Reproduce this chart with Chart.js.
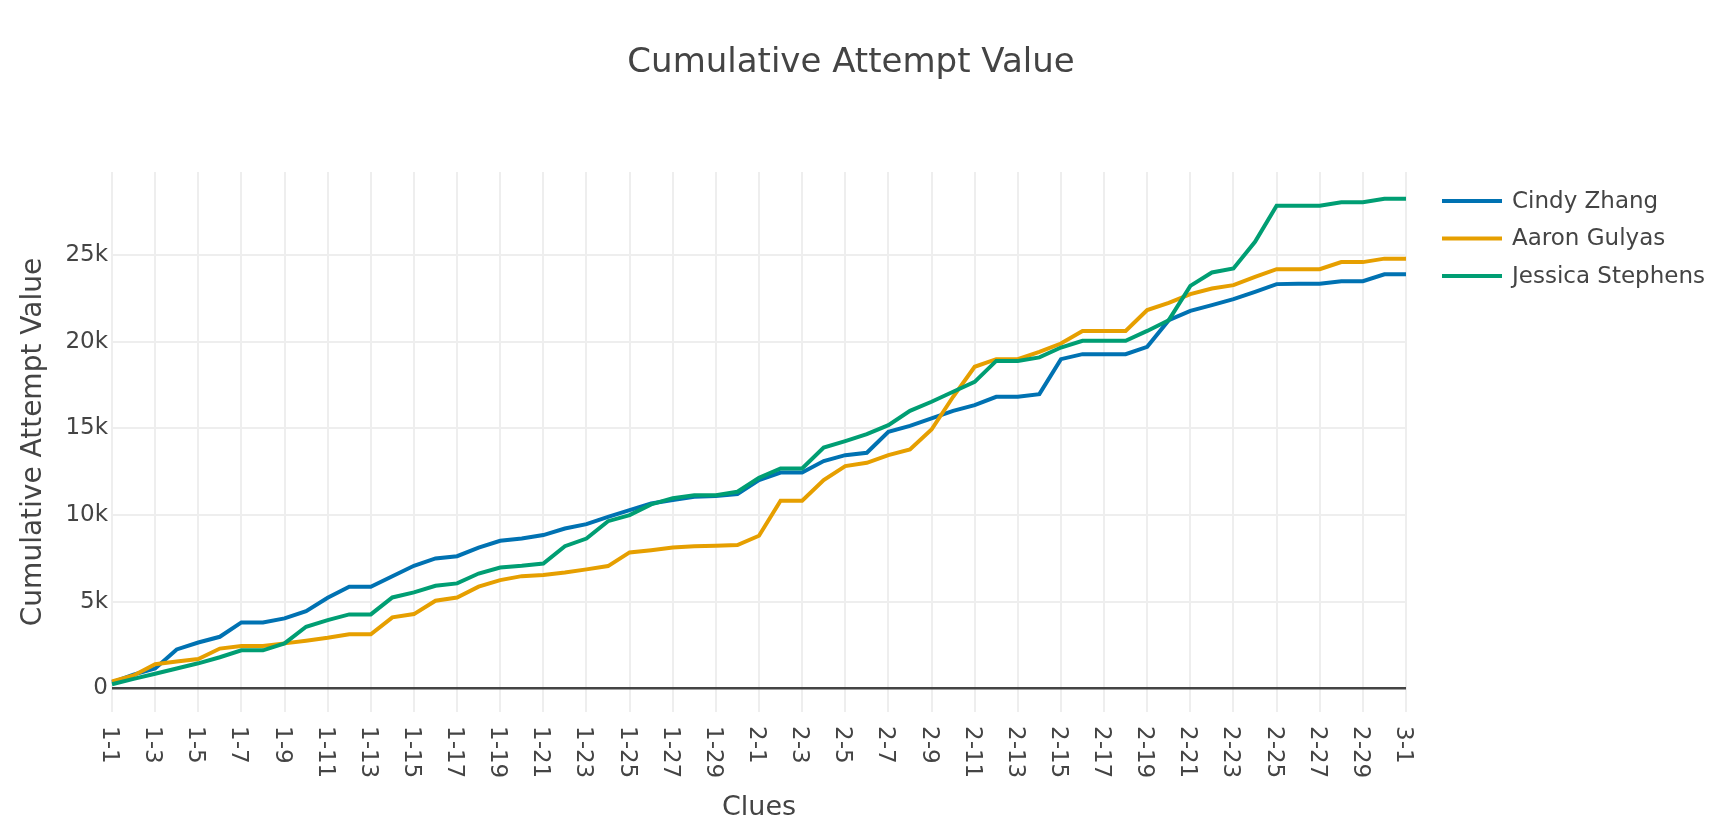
<!DOCTYPE html>
<html>
<head>
<meta charset="utf-8">
<title>Cumulative Attempt Value</title>
<script src="https://cdn.jsdelivr.net/npm/chart.js@4.4.0/dist/chart.umd.min.js"></script>
<style>
    html, body { margin: 0; padding: 0; background: #fff; }
    canvas { display: block; }
</style>
</head>
<body>
<canvas id="chart" width="1732" height="834"></canvas>
<script>
// clue labels: 1-1 .. 1-30, 2-1 .. 2-30, 3-1
const clues = [
    "1-1", "1-2", "1-3", "1-4", "1-5", "1-6", "1-7", "1-8", "1-9", "1-10",
    "1-11", "1-12", "1-13", "1-14", "1-15", "1-16", "1-17", "1-18", "1-19", "1-20",
    "1-21", "1-22", "1-23", "1-24", "1-25", "1-26", "1-27", "1-28", "1-29", "1-30",
    "2-1", "2-2", "2-3", "2-4", "2-5", "2-6", "2-7", "2-8", "2-9", "2-10",
    "2-11", "2-12", "2-13", "2-14", "2-15", "2-16", "2-17", "2-18", "2-19", "2-20",
    "2-21", "2-22", "2-23", "2-24", "2-25", "2-26", "2-27", "2-28", "2-29", "2-30",
    "3-1",
];

const cindyZhang = [
    350, 800, 1150, 2250, 2650, 2980, 3810, 3810, 4040, 4460,
    5230, 5870, 5870, 6470, 7080, 7500, 7630, 8120, 8520, 8650,
    8850, 9230, 9480, 9900, 10290, 10670, 10870, 11060, 11100, 11210,
    12020, 12460, 12460, 13120, 13460, 13600, 14810, 15150, 15580, 16020,
    16350, 16830, 16830, 16980, 19000, 19290, 19290, 19290, 19710, 21250,
    21790, 22120, 22460, 22880, 23330, 23350, 23350, 23500, 23500, 23900,
    23900,
];

const aaronGulyas = [
    400, 750, 1400, 1550, 1700, 2300, 2450, 2450, 2600, 2750,
    2920, 3120, 3120, 4100, 4290, 5060, 5250, 5870, 6250, 6480,
    6540, 6690, 6870, 7060, 7850, 7980, 8130, 8210, 8230, 8270,
    8810, 10830, 10830, 12020, 12830, 13020, 13460, 13790, 14940, 16830,
    18560, 19000, 19000, 19420, 19900, 20630, 20630, 20630, 21830, 22250,
    22750, 23080, 23270, 23750, 24190, 24190, 24190, 24600, 24600, 24800,
    24800,
];

const jessicaStephens = [
    240, 550, 850, 1150, 1450, 1800, 2200, 2200, 2600, 3560,
    3940, 4270, 4270, 5250, 5540, 5920, 6060, 6630, 6980, 7080,
    7210, 8210, 8650, 9650, 10000, 10620, 10980, 11150, 11150, 11350,
    12150, 12690, 12690, 13900, 14270, 14670, 15190, 16020, 16540, 17120,
    17690, 18900, 18900, 19100, 19670, 20060, 20060, 20060, 20630, 21250,
    23230, 24000, 24230, 25770, 27850, 27850, 27850, 28050, 28050, 28250,
    28250,
];

const yTickValues = [0, 5000, 10000, 15000, 20000, 25000];

const FONT = "'DejaVu Sans', Verdana, sans-serif";
const TEXT_COLOR = "#444";

// title, legend and rotated x labels are drawn here
const decorations = {
    id: "decorations",
    afterDraw(chart) {
        const ctx = chart.ctx;
        ctx.save();
        ctx.fillStyle = TEXT_COLOR;

        // title
        ctx.font = "34px " + FONT;
        ctx.textAlign = "center";
        ctx.textBaseline = "middle";
        ctx.fillText("Cumulative Attempt Value", 851, 63);

        // x tick labels, reading top to bottom
        const xScale = chart.scales.x;
        ctx.font = "23px " + FONT;
        ctx.textAlign = "left";
        xScale.ticks.forEach((tick, i) => {
            if (tick.label == null) return;
            const x = xScale.getPixelForTick(i) - 3;
            ctx.save();
            ctx.translate(x, 726);
            ctx.rotate(Math.PI / 2);
            ctx.fillText(tick.label, 0, 0);
            ctx.restore();
        });

        // legend
        chart.data.datasets.forEach((ds, i) => {
            const y = 201 + i * 37.5;
            ctx.strokeStyle = ds.borderColor;
            ctx.lineWidth = 4;
            ctx.beginPath();
            ctx.moveTo(1442, y);
            ctx.lineTo(1502, y);
            ctx.stroke();
            ctx.fillText(ds.label, 1512, y + 1);
        });
        ctx.restore();
    },
};

new Chart(document.getElementById("chart"), {
    type: "line",
    data: {
        labels: clues,
        datasets: [
            {
                label: "Cindy Zhang",
                data: cindyZhang,
                borderColor: "#0072B2",
                order: 2,
            },
            {
                label: "Aaron Gulyas",
                data: aaronGulyas,
                borderColor: "#E69F00",
                order: 1,
            },
            {
                label: "Jessica Stephens",
                data: jessicaStephens,
                borderColor: "#009E73",
                order: 0,
            },
        ],
    },
    options: {
        responsive: false,
        animation: false,
        layout: {
            padding: { top: 172, right: 326, left: 0, bottom: 0 },
        },
        elements: {
            line: { borderWidth: 4, tension: 0, fill: false },
            point: { radius: 0, hoverRadius: 0 },
        },
        plugins: {
            legend: { display: false },
            title: { display: false },
            tooltip: { enabled: false },
        },
        scales: {
            x: {
                type: "category",
                offset: false,
                border: { display: false },
                grid: { color: "#eee", lineWidth: 2, drawTicks: false },
                ticks: {
                    autoSkip: false,
                    maxRotation: 90,
                    minRotation: 90,
                    color: "rgba(0,0,0,0)",
                    font: { family: FONT, size: 23 },
                    callback: (value, index) => (index % 2 === 0 ? clues[index] : null),
                },
                title: {
                    display: true,
                    text: "Clues",
                    color: TEXT_COLOR,
                    font: { family: FONT, size: 27 },
                    padding: { top: 0, bottom: 10 },
                },
                afterFit: (scale) => {
                    scale.height = 122;
                },
            },
            y: {
                min: -1360,
                max: 29800,
                border: { display: false },
                grid: {
                    drawTicks: false,
                    color: (ctx) => (ctx.tick && ctx.tick.value === 0 ? "#444" : "#eee"),
                    lineWidth: (ctx) => (ctx.tick && ctx.tick.value === 0 ? 2.6 : 2),
                },
                afterBuildTicks: (axis) => {
                    axis.ticks = yTickValues.map((v) => ({ value: v }));
                },
                ticks: {
                    padding: 4,
                    color: TEXT_COLOR,
                    font: { family: FONT, size: 23 },
                    callback: (value) => (value === 0 ? "0" : value / 1000 + "k"),
                },
                title: {
                    display: true,
                    text: "Cumulative Attempt Value",
                    color: TEXT_COLOR,
                    font: { family: FONT, size: 28 },
                    padding: { top: 17, bottom: 0 },
                },
                afterFit: (scale) => {
                    scale.width = 112;
                },
            },
        },
    },
    plugins: [decorations],
});
</script>
</body>
</html>
